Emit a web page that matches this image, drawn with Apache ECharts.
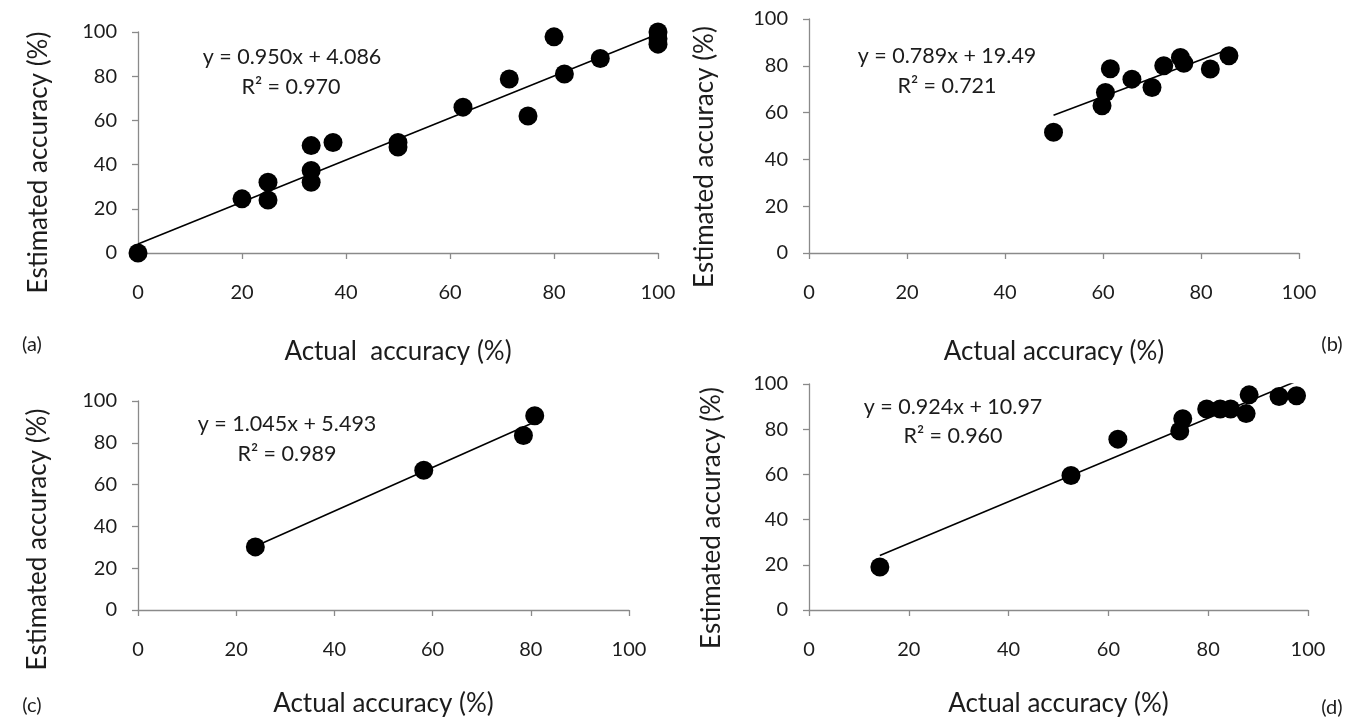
<!DOCTYPE html>
<html>
<head>
<meta charset="utf-8">
<script src="https://cdn.jsdelivr.net/npm/echarts@6/dist/echarts.min.js"></script>
<style>
html,body{margin:0;padding:0;background:#fff;}
#chart{width:1356px;height:718px;}
</style>
</head>
<body>
<div id="chart"></div>
<script>
// ---- data ----
const ticks = [0, 20, 40, 60, 80, 100];

const aActual    = [0, 20, 25, 25, 33.3, 33.3, 33.3, 37.5, 50, 50, 62.5, 71.4, 75, 80, 82, 88.9, 100, 100, 100];
const aEstimated = [0, 24.5, 32, 24, 48.6, 37.3, 32, 50, 50, 48, 66, 78.7, 62, 97.8, 81, 88, 100, 97, 94.5];

const bActual    = [49.9, 59.8, 60.5, 61.5, 65.9, 70.0, 72.4, 75.8, 76.5, 81.9, 85.7];
const bEstimated = [51.6, 62.9, 68.6, 78.7, 74.3, 70.7, 80.0, 83.6, 81.1, 78.6, 84.3];

const cActual    = [23.9, 58.2, 78.5, 80.8];
const cEstimated = [30.2, 66.9, 83.5, 92.9];

const dActual    = [14.2, 52.5, 61.9, 74.3, 74.9, 79.7, 82.4, 84.5, 87.6, 88.2, 94.2, 97.7];
const dEstimated = [19.0, 59.5, 75.6, 79.2, 84.6, 88.9, 88.9, 88.9, 86.9, 95.2, 94.5, 94.8];

const slopes     = [0.950, 0.789, 1.045, 0.924];
const intercepts = [4.086, 19.49, 5.493, 10.97];
const equations  = ['y = 0.950x + 4.086', 'y = 0.789x + 19.49', 'y = 1.045x + 5.493', 'y = 0.924x + 10.97'];
const rSquared   = ['R\u00B2 = 0.970', 'R\u00B2 = 0.721', 'R\u00B2 = 0.989', 'R\u00B2 = 0.960'];
const panelTags  = ['(a)', '(b)', '(c)', '(d)'];
const xTitles    = ['Actual  accuracy (%)', 'Actual accuracy (%)', 'Actual accuracy (%)', 'Actual accuracy (%)'];
const yTitle     = 'Estimated accuracy (%)';

// ---- layout ----
const FONT = 'Lato';
const TXT = '#1c1c1c';
const AX = '#8a8a8a';
const TITLE_FS = 26;
const grids = [
  {left: 138, top: 32,  width: 520, height: 221},
  {left: 809, top: 19,  width: 490, height: 234},
  {left: 138, top: 401, width: 491, height: 212},
  {left: 809, top: 384, width: 499, height: 229}
];
const xNameGap = [86, 86, 81, 81];
const yNameGap = [86, 91, 87, 84];
const yNameShift = [40, 42, 68, 42];
const eqPos = [[292, 57, 291, 87], [947, 56, 947, 86], [287, 424, 287, 454], [953, 407, 953, 436]];
const tagPos = [[32, 345], [1332, 345], [32, 706], [1332, 708]];

const sets = [[aActual, aEstimated], [bActual, bEstimated], [cActual, cEstimated], [dActual, dEstimated]];

function pairs(xs, ys) { return xs.map((x, i) => [x, ys[i]]); }
function trend(i) {
  const xs = sets[i][0];
  const lo = Math.min(...xs), hi = Math.max(...xs);
  return [[lo, slopes[i] * lo + intercepts[i]], [hi, slopes[i] * hi + intercepts[i]]];
}

const xAxis = [], yAxis = [], series = [], graphic = [];
for (let i = 0; i < 4; i++) {
  xAxis.push({
    type: 'value', gridIndex: i, min: 0, max: 100, interval: 20,
    name: xTitles[i], nameLocation: 'middle', nameGap: xNameGap[i],
    nameTextStyle: {fontFamily: FONT, fontSize: TITLE_FS, color: TXT},
    axisLine: {show: true, onZero: false, lineStyle: {color: AX, width: 1.3}},
    axisTick: {show: true, inside: false, length: 6, lineStyle: {color: AX, width: 1.3}},
    axisLabel: {fontFamily: FONT, fontSize: 20, color: TXT, margin: 30},
    splitLine: {show: false}
  });
  yAxis.push({
    type: 'value', gridIndex: i, min: 0, max: 100, interval: 20,
    name: yTitle, nameLocation: 'middle', nameGap: yNameGap[i],
    nameTextStyle: {fontFamily: FONT, fontSize: TITLE_FS, color: TXT, padding: [0, yNameShift[i], 0, 0]},
    axisLine: {show: true, onZero: false, lineStyle: {color: AX, width: 1.3}},
    axisTick: {show: true, inside: false, length: 6, lineStyle: {color: AX, width: 1.3}},
    axisLabel: {fontFamily: FONT, fontSize: 20, color: TXT, margin: 21},
    splitLine: {show: false}
  });
  series.push({
    type: 'line', xAxisIndex: i, yAxisIndex: i, data: trend(i),
    symbol: 'none', clip: true, silent: true,
    lineStyle: {color: '#000', width: 1.6}, z: 2
  });
  series.push({
    type: 'scatter', xAxisIndex: i, yAxisIndex: i, data: pairs(sets[i][0], sets[i][1]),
    symbol: 'circle', symbolSize: 19, itemStyle: {color: '#000', opacity: 1}, z: 3
  });
  graphic.push({
    type: 'text', x: eqPos[i][0], y: eqPos[i][1],
    style: {text: equations[i], fontFamily: FONT, fontSize: 21.5, fill: TXT, align: 'center', verticalAlign: 'middle'}
  });
  graphic.push({
    type: 'text', x: eqPos[i][2], y: eqPos[i][3],
    style: {text: rSquared[i], fontFamily: FONT, fontSize: 21.5, fill: TXT, align: 'center', verticalAlign: 'middle'}
  });
  graphic.push({
    type: 'text', x: tagPos[i][0], y: tagPos[i][1],
    style: {text: panelTags[i], font: '20px Lato', fontFamily: FONT, fontSize: 20, fill: TXT, align: 'center', verticalAlign: 'middle'}
  });
}

const chart = echarts.init(document.getElementById('chart'), null, {renderer: 'canvas'});
chart.setOption({
  animation: false,
  backgroundColor: '#fff',
  grid: grids,
  xAxis: xAxis,
  yAxis: yAxis,
  series: series,
  graphic: graphic
});
</script>
</body>
</html>
